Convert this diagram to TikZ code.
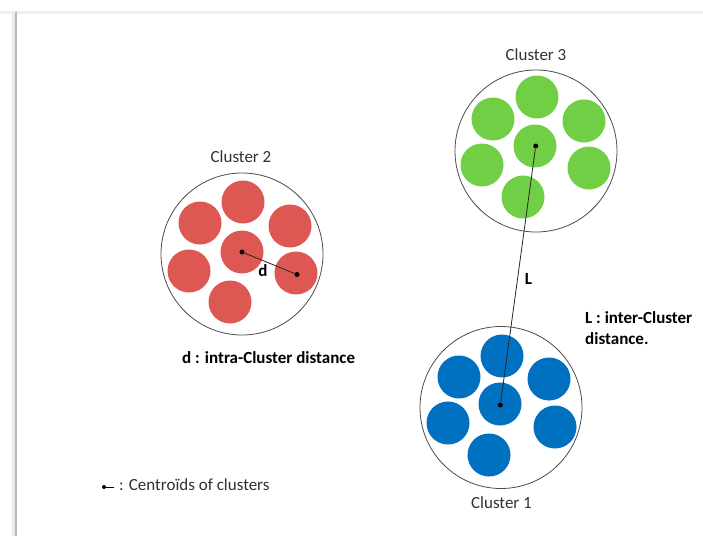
\documentclass[tikz,border=0pt]{standalone}
\usepackage{fontspec}
\setmainfont{Carlito}
\definecolor{cred}{RGB}{222,88,83}
\definecolor{cgreen}{RGB}{113,207,70}
\definecolor{cblue}{RGB}{0,112,192}
\definecolor{ctext}{RGB}{50,50,50}
\begin{document}
\begin{tikzpicture}[x=1pt,y=-1pt,
  big/.style={circle,draw=black!70,line width=0.8pt,minimum size=162pt,inner sep=0pt},
  small/.style={circle,minimum size=43pt,inner sep=0pt},
  lbl/.style={font=\fontsize{17}{21}\selectfont,text=ctext,inner sep=0pt},
  blbl/.style={font=\fontsize{17}{21}\selectfont\bfseries,text=black,inner sep=0pt},
  cen/.style={circle,fill=black,minimum size=5pt,inner sep=0pt},
  link/.style={draw=black!85,line width=0.8pt}]
\useasboundingbox (0,0) rectangle (703,536);
\fill[white] (0,0) rectangle (703,536);
% page shadow
\fill[black!6] (0,11) rectangle (703,13.5);
\fill[black!8] (12,11) rectangle (17,536);
\fill[black!28] (14.5,12) rectangle (16.5,536);
% Cluster 2
\node[big] (b2) at (242,254) {};
\foreach \n/\x/\y in {t/243/202,ul/200/223,ur/290/226,c/242/252,r/296/273,l/189/271,b/230/302}
  \node[small,fill=cred] (r\n) at (\x,\y) {};
\node[cen] (c2) at (242,252) {};
\node[cen] (p2) at (297,274.5) {};
\draw[link] (c2) -- (p2);
\node[blbl] (d) at (263,271) {d};
\node[lbl] (t2) at (241,157) {Cluster 2};
\node[blbl,anchor=west] (dl) at (182,358) {d : intra-Cluster distance};
% Cluster 3
\node[big] (b3) at (536,151) {};
\foreach \n/\x/\y in {t/537/97,ul/493/119,ur/584/121,c/535/146,l/482/165,r/589/168,b/523/197}
  \node[small,fill=cgreen] (g\n) at (\x,\y) {};
\node[cen] (c3) at (535.7,146) {};
\node[lbl] (t3) at (536,55) {Cluster 3};
% Cluster 1
\node[big] (b1) at (501,407.5) {};
\foreach \n/\x/\y in {t/502/356,ul/459/377,ur/549/379,c/500/404,l/448/423,r/555/427,b/489/455}
  \node[small,fill=cblue] (u\n) at (\x,\y) {};
\node[cen] (c1) at (500.3,405) {};
\node[lbl] (t1) at (501.5,503) {Cluster 1};
% inter-cluster link
\draw[link] (c3) -- (c1);
\node[blbl] (L) at (528.5,278.5) {L};
\node[blbl,anchor=north west,align=left] (Ll) at (585,311) {L : inter-Cluster\\distance.};
% legend
\node[circle,fill=black,minimum size=4pt,inner sep=0pt] (lg) at (104,487) {};
\coordinate (lge) at (113.5,487);
\draw[line width=0.8pt] (lg) -- (lge);
\node[lbl,anchor=west] (lt) at (119,485) {: Centroïds of clusters};
\end{tikzpicture}
\end{document}
